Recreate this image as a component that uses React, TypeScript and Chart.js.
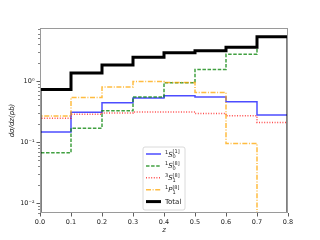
import React, { useEffect, useRef } from 'react';
import { Chart, registerables } from 'chart.js';

Chart.register(...registerables);

// ---- data ----
const binEdges = [0, 0.1, 0.2, 0.3, 0.4, 0.5, 0.6, 0.7, 0.8];
const s0Singlet = [0.146, 0.307, 0.44, 0.53, 0.575, 0.55, 0.46, 0.277];
const s0Octet = [0.067, 0.169, 0.326, 0.55, 0.94, 1.55, 2.74, 5.3];
const s1Octet = [0.245, 0.285, 0.3, 0.31, 0.31, 0.295, 0.27, 0.21];
const p1Octet = [0.267, 0.54, 0.8, 0.98, 0.95, 0.65, 0.095, 0];
const totalVals = [0.73, 1.35, 1.83, 2.45, 2.91, 3.14, 3.57, 5.3];

const xTickValues = [0, 0.1, 0.2, 0.3, 0.4, 0.5, 0.6, 0.7, 0.8];
const xTickLabels = ['0.0', '0.1', '0.2', '0.3', '0.4', '0.5', '0.6', '0.7', '0.8'];
const yMajorTicks = [0.01, 0.1, 1];
const yMajorLabels = ['10\u207B\u00B2', '10\u207B\u00B9', '10\u2070'];
const yMinorMultipliers = [2, 3, 4, 5, 6, 7, 8, 9];
const yMinorDecades = [0.001, 0.01, 0.1, 1];

const Y_MIN = 0.0069;
const Y_MAX = 7.4;

// legend label pieces: pre-superscript, base letter, subscript, superscript
const legendLabels = [
  { pre: '1', base: 'S', sub: '0', sup: '[1]' },
  { pre: '1', base: 'S', sub: '0', sup: '[8]' },
  { pre: '3', base: 'S', sub: '1', sup: '[8]' },
  { pre: '1', base: 'P', sub: '1', sup: '[8]' },
  { pre: '', base: 'Total', sub: '', sup: '' },
];
const seriesNames = ['1S0[1]', '1S0[8]', '3S1[8]', '1P1[8]', 'Total'];

const FONT = "'DejaVu Sans', sans-serif";

function stepPoints(vals: number[]) {
  const pts: { x: number; y: number }[] = [];
  pts.push({ x: binEdges[0], y: Y_MIN });
  vals.forEach((v, i) => pts.push({ x: binEdges[i], y: v > 0 ? v : Y_MIN }));
  const last = vals[vals.length - 1];
  pts.push({ x: binEdges[binEdges.length - 1], y: last > 0 ? last : Y_MIN });
  pts.push({ x: binEdges[binEdges.length - 1], y: Y_MIN });
  return pts;
}

const framePlugin = {
  id: 'frame',
  afterDatasetsDraw(chart: any) {
    const { ctx, chartArea } = chart;
    const { left, right, top, bottom } = chartArea;
    const xs = chart.scales.x;
    const ys = chart.scales.y;
    ctx.save();
    // spines
    ctx.strokeStyle = '#9a9a9a';
    ctx.lineWidth = 1;
    ctx.strokeRect(left + 0.5, top + 0.5, right - left - 1, bottom - top - 1);
    // ticks
    ctx.strokeStyle = '#333';
    ctx.lineWidth = 0.8;
    ctx.beginPath();
    xTickValues.forEach((v) => {
      const px = Math.round(xs.getPixelForValue(v)) + 0.5;
      ctx.moveTo(px, bottom);
      ctx.lineTo(px, bottom + 3.5);
    });
    yMajorTicks.forEach((v) => {
      const py = Math.round(ys.getPixelForValue(v)) + 0.5;
      ctx.moveTo(left, py);
      ctx.lineTo(left - 3.5, py);
    });
    ctx.stroke();
    ctx.lineWidth = 0.6;
    ctx.beginPath();
    yMinorDecades.forEach((d) => {
      yMinorMultipliers.forEach((m) => {
        const v = d * m;
        if (v < Y_MIN || v > Y_MAX) return;
        const py = Math.round(ys.getPixelForValue(v)) + 0.5;
        ctx.moveTo(left, py);
        ctx.lineTo(left - 2, py);
      });
    });
    ctx.stroke();
    ctx.restore();
  },
  afterDraw(chart: any) {
    const { ctx, chartArea } = chart;
    ctx.save();
    ctx.fillStyle = '#222';
    // axis titles
    ctx.font = `italic 7px ${FONT}`;
    ctx.textAlign = 'center';
    ctx.textBaseline = 'middle';
    ctx.fillText('z', (chartArea.left + chartArea.right) / 2, 230);
    ctx.save();
    ctx.translate(12, (chartArea.top + chartArea.bottom) / 2);
    ctx.rotate(-Math.PI / 2);
    ctx.fillText('d\u03C3/dz(pb)', 0, 0);
    ctx.restore();

    // legend
    const bx = 143, by = 147, bw = 42, bh = 63, r = 2;
    ctx.beginPath();
    ctx.moveTo(bx + r, by);
    ctx.arcTo(bx + bw, by, bx + bw, by + bh, r);
    ctx.arcTo(bx + bw, by + bh, bx, by + bh, r);
    ctx.arcTo(bx, by + bh, bx, by, r);
    ctx.arcTo(bx, by, bx + bw, by, r);
    ctx.closePath();
    ctx.fillStyle = 'rgba(255,255,255,0.85)';
    ctx.fill();
    ctx.strokeStyle = '#d0d0d0';
    ctx.lineWidth = 0.8;
    ctx.stroke();

    const datasets = chart.data.datasets;
    legendLabels.forEach((lab, i) => {
      const ds = datasets[i];
      const ry = 154 + i * 11.9;
      ctx.save();
      ctx.strokeStyle = ds.borderColor;
      ctx.lineWidth = ds.borderWidth;
      ctx.setLineDash(ds.borderDash || []);
      ctx.beginPath();
      ctx.moveTo(146, ry);
      ctx.lineTo(161, ry);
      ctx.stroke();
      ctx.restore();

      ctx.fillStyle = '#222';
      ctx.textAlign = 'left';
      ctx.textBaseline = 'alphabetic';
      let x = 165;
      const base = ry + 2.5;
      if (lab.pre) {
        ctx.font = `5px ${FONT}`;
        ctx.fillText(lab.pre, x, base - 3);
        x += ctx.measureText(lab.pre).width;
      }
      if (lab.sub || lab.sup) {
        ctx.font = `italic 7px ${FONT}`;
      } else {
        ctx.font = `7px ${FONT}`;
      }
      ctx.fillText(lab.base, x, base);
      x += ctx.measureText(lab.base).width;
      if (lab.sub) {
        ctx.font = `5px ${FONT}`;
        ctx.fillText(lab.sub, x, base + 1.8);
      }
      if (lab.sup) {
        ctx.font = `5px ${FONT}`;
        ctx.fillText(lab.sup, x, base - 3.6);
      }
    });
    ctx.restore();
  },
};

export default function App() {
  const ref = useRef<HTMLCanvasElement | null>(null);
  useEffect(() => {
    if (!ref.current) return;
    const mk = (i: number, vals: number[], color: string, width: number, dash: number[], order: number) => ({
      label: seriesNames[i],
      data: stepPoints(vals),
      borderColor: color,
      borderWidth: width,
      borderDash: dash,
      stepped: 'before' as const,
      pointRadius: 0,
      fill: false,
      clip: 0,
      order,
    });
    const chart = new Chart(ref.current, {
      type: 'line',
      data: {
        datasets: [
          mk(0, s0Singlet, 'rgba(0,0,255,0.7)', 1.5, [], 4),
          mk(1, s0Octet, 'rgba(0,128,0,0.75)', 1.5, [3.5, 1.6], 3),
          mk(2, s1Octet, 'rgba(255,0,0,0.7)', 1.5, [1, 1.6], 2),
          mk(3, p1Octet, 'rgba(255,165,0,0.75)', 1.5, [5, 1.6, 1, 1.6], 1),
          mk(4, totalVals, '#000000', 3, [], 0),
        ],
      },
      plugins: [framePlugin],
      options: {
        animation: false,
        responsive: false,
        events: [],
        layout: { padding: { left: 0, top: 28, right: 32, bottom: 0 } },
        plugins: { legend: { display: false }, tooltip: { enabled: false } },
        scales: {
          x: {
            type: 'linear',
            min: 0,
            max: 0.8,
            afterFit: (s: any) => { s.height = 27; },
            afterBuildTicks: (s: any) => { s.ticks = xTickValues.map((v) => ({ value: v })); },
            grid: { display: false, drawTicks: true, tickLength: 3.5 },
            border: { display: false },
            ticks: {
              autoSkip: false,
              maxRotation: 0,
              minRotation: 0,
              padding: 1.5,
              color: '#222',
              font: { family: FONT, size: 6.5 },
              callback: (_v: any, i: number) => xTickLabels[i],
            },
          },
          y: {
            type: 'logarithmic',
            min: Y_MIN,
            max: Y_MAX,
            afterFit: (s: any) => { s.width = 40; },
            afterBuildTicks: (s: any) => { s.ticks = yMajorTicks.map((v) => ({ value: v, major: true })); },
            grid: { display: false, drawTicks: true, tickLength: 3.5 },
            border: { display: false },
            ticks: {
              autoSkip: false,
              padding: 2,
              color: '#222',
              font: { family: FONT, size: 6.5 },
              callback: (_v: any, i: number) => yMajorLabels[i],
            },
          },
        },
      } as any,
    });
    return () => chart.destroy();
  }, []);
  return (
    <div style={{ position: 'absolute', left: 0, top: 0, width: 320, height: 240, background: '#fff' }}>
      <canvas ref={ref} width={320} height={240} style={{ display: 'block' }} />
    </div>
  );
}
